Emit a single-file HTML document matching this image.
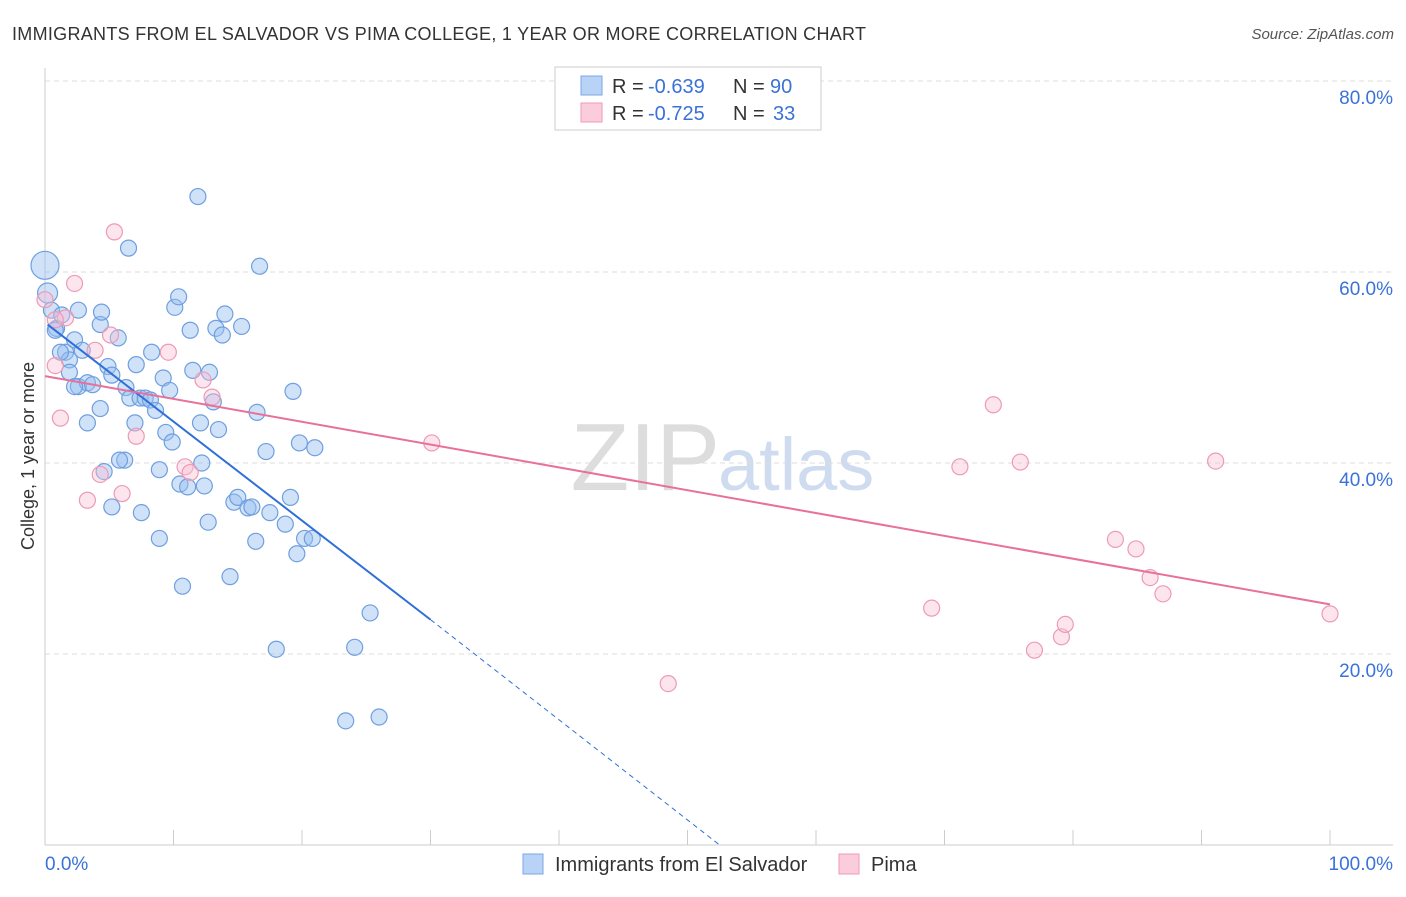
<!DOCTYPE html>
<html><head><meta charset="utf-8"><style>
body{margin:0;background:#fff;font-family:"Liberation Sans",sans-serif;}
svg text{font-family:"Liberation Sans",sans-serif;}
</style></head><body>
<svg id="chart" width="1406" height="892" xmlns="http://www.w3.org/2000/svg">
<text x="12" y="40" font-size="18" fill="#333" textLength="854">IMMIGRANTS FROM EL SALVADOR VS PIMA COLLEGE, 1 YEAR OR MORE CORRELATION CHART</text>
<text x="1394" y="39" font-size="15" fill="#555" font-style="italic" text-anchor="end">Source: ZipAtlas.com</text>
<text x="720" y="490" font-size="96" fill="#ddd" text-anchor="end" font-family="Liberation Serif">ZIP</text>
<text x="718" y="490" font-size="74" fill="#cfdcf0">atlas</text>
<g id="grid"></g><g id="axes"></g><g id="marks"></g>
<text x="34" y="456" font-size="18" fill="#333" text-anchor="middle" transform="rotate(-90 34 456)">College, 1 year or more</text>
<g>
<rect x="555" y="67" width="266" height="63" fill="#fff" stroke="#ccc"/>
<rect x="581" y="76" width="21" height="19" fill="#b8d3f5" stroke="#7aa8e8"/>
<rect x="581" y="103" width="21" height="19" fill="#fbccdb" stroke="#f09ab8"/>
<text x="612" y="93" font-size="20" fill="#333">R =</text>
<text x="648" y="93" font-size="20" fill="#3a72d8">-0.639</text>
<text x="733" y="93" font-size="20" fill="#333">N =</text>
<text x="770" y="93" font-size="20" fill="#3a72d8">90</text>
<text x="612" y="120" font-size="20" fill="#333">R =</text>
<text x="648" y="120" font-size="20" fill="#3a72d8">-0.725</text>
<text x="733" y="120" font-size="20" fill="#333">N =</text>
<text x="773" y="120" font-size="20" fill="#3a72d8">33</text>
</g>
<g>
<rect x="523" y="854" width="20" height="20" fill="#b8d3f5" stroke="#7aa8e8"/>
<text x="555" y="871" font-size="20" fill="#333">Immigrants from El Salvador</text>
<rect x="839" y="854" width="20" height="20" fill="#fbccdb" stroke="#f09ab8"/>
<text x="871" y="871" font-size="20" fill="#333">Pima</text>
</g>
</svg>
<script>
const blueX=[0,0.2,0.5,0.9,0.8,1.3,1.6,1.9,2.3,2.6,2.9,1.9,2.6,3.3,3.7,4.3,4.4,4.9,5.2,5.7,6.3,6.5,6.6,7.1,7.4,7.8,8.2,8.3,8.6,8.9,9.2,9.4,9.7,9.9,10.1,10.4,10.5,10.7,11.1,11.3,11.5,11.9,12.1,12.2,12.4,12.7,12.8,13.1,13.3,13.5,13.8,14.0,14.4,14.7,15.0,15.3,15.8,16.1,16.4,16.5,16.7,17.2,17.5,18.0,18.7,19.1,19.3,19.6,19.8,20.2,20.8,21.0,23.4,24.1,25.3,26.0,7.0,6.2,5.2,7.5,8.9,5.8,4.6,3.3,4.3,2.3,1.2];
const blueY=[60.7,57.8,56.0,54.1,53.9,55.5,51.6,50.8,52.9,56.0,51.8,49.5,48.0,48.4,48.2,54.5,55.8,50.1,49.2,53.1,47.9,62.5,46.8,50.3,46.8,46.8,46.6,51.6,45.5,39.3,48.9,43.2,47.6,42.2,56.3,57.4,37.8,27.1,37.5,53.9,49.7,67.9,44.2,40.0,37.6,33.8,49.5,46.4,54.1,43.5,53.4,55.6,28.1,35.9,36.4,54.3,35.3,35.4,31.8,45.3,60.6,41.2,34.8,20.5,33.6,36.4,47.5,30.5,42.1,32.1,32.1,41.6,13.0,20.7,24.3,13.4,44.2,40.3,35.4,34.8,32.1,40.3,39.1,44.2,45.7,48.0,51.6];
const pinkX=[0,0.8,1.2,1.6,2.3,3.3,3.9,4.3,5.4,6.0,5.1,7.1,9.6,10.9,11.3,12.3,13.0,30.1,48.5,69.0,71.2,73.8,75.9,77.0,79.1,79.4,83.3,84.9,86.0,87.0,91.1,100,0.8];
const pinkY=[57.1,50.2,44.7,55.2,58.8,36.1,51.8,38.8,64.2,36.8,53.4,42.8,51.6,39.6,39.0,48.7,46.9,42.1,16.9,24.8,39.6,46.1,40.1,20.4,21.8,23.1,32.0,31.0,28.0,26.3,40.2,24.2,55.0];
const yTicks=[20,40,60,80];
const xTickVals=[0,10,20,30,40,50,60,70,80,90,100];
const blueTrend=[[0.2,54.5],[30,23.6],[52.5,0]];
const pinkTrend=[[0,49.1],[100,25.2]];
const NS="http://www.w3.org/2000/svg";
const sx=v=>45+v*12.85, sy=v=>845-v*9.55;
function mk(tag,attrs,parent){const e=document.createElementNS(NS,tag);for(const k in attrs)e.setAttribute(k,attrs[k]);document.getElementById(parent).appendChild(e);return e;}
yTicks.forEach(t=>{
 const l=mk('line',{x1:45,x2:1393,y1:sy(t),y2:sy(t),stroke:'#ddd','stroke-dasharray':'5,4'},'grid');
 
 
 const tx=mk('text',{x:1393,y:sy(t)+23,'font-size':19,fill:'#3a72d8','text-anchor':'end'},'grid');
 tx.textContent=t.toFixed(1)+'%';
 
 
});
const ax=mk('line',{x1:45,x2:45,y1:68,y2:845,stroke:'#ccc'},'axes');


const bx=mk('line',{x1:45,x2:1393,y1:845,y2:845,stroke:'#ccc'},'axes');


xTickVals.forEach(t=>{
 const l=mk('line',{x1:sx(t),x2:sx(t),y1:830,y2:845,stroke:'#ccc'},'axes');
 
 
});
[[0,'start'],[100,'end']].forEach(([v,a])=>{
 const t=mk('text',{x:v==0?45:1393,y:870,'font-size':19,fill:'#3a72d8','text-anchor':a},'axes');
 t.textContent=v.toFixed(1)+'%';
 
 
});
blueX.forEach((x,i)=>{
 const r=i==0?14:(i==1?10:8);
 const c=mk('circle',{cx:sx(x),cy:sy(blueY[i]),r:r,fill:'rgba(150,190,240,0.45)',stroke:'#6f9fe0','stroke-width':1.2},'marks');
 
 
});
pinkX.forEach((x,i)=>{
 const c=mk('circle',{cx:sx(x),cy:sy(pinkY[i]),r:8,fill:'rgba(250,190,210,0.4)',stroke:'#ee9ab6','stroke-width':1.2},'marks');
 
 
});
const b1=mk('line',{x1:sx(blueTrend[0][0]),y1:sy(blueTrend[0][1]),x2:sx(blueTrend[1][0]),y2:sy(blueTrend[1][1]),stroke:'#2f6fd8','stroke-width':2},'marks');


const b2=mk('line',{x1:sx(blueTrend[1][0]),y1:sy(blueTrend[1][1]),x2:sx(blueTrend[2][0]),y2:sy(blueTrend[2][1]),stroke:'#2f6fd8','stroke-width':1,'stroke-dasharray':'5,4'},'marks');


const p1=mk('line',{x1:sx(pinkTrend[0][0]),y1:sy(pinkTrend[0][1]),x2:sx(pinkTrend[1][0]),y2:sy(pinkTrend[1][1]),stroke:'#e8709a','stroke-width':2},'marks');


</script>
</body></html>
